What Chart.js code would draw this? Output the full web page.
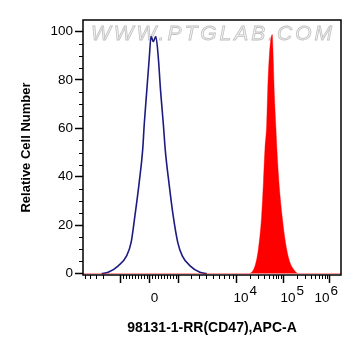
<!DOCTYPE html>
<html>
<head>
<meta charset="utf-8">
<script src="https://cdn.jsdelivr.net/npm/chart.js@4.4.0/dist/chart.umd.min.js"></script>
<style>
  html, body { margin: 0; padding: 0; background: #fff; }
  canvas { display: block; }
</style>
</head>
<body>
<canvas id="myChart" width="361" height="356"></canvas>
<script>
const ctx = document.getElementById('myChart');

// x is in display channels (0-1024) of the biexponential APC-A axis
const controlX = [74, 100, 140, 173, 191, 206, 223, 237, 243, 253, 263, 270, 279, 289, 299, 308, 319, 327, 341, 358, 376, 394, 425, 464, 491];
const controlY = [0, 0.5, 3.2, 7.3, 12.9, 23.8, 37.6, 51.3, 61.6, 75.4, 89.1, 98, 95.9, 98, 89.1, 75.4, 61.6, 50.5, 37.6, 23.8, 12.9, 7.3, 3.2, 0.5, 0];

const stainedX = [0, 656, 683, 696, 709, 716, 722, 729, 733, 739, 751, 755, 759, 765, 772, 779, 790, 805, 820, 838, 855, 1024];
const stainedY = [0, 0, 3.2, 10.1, 23.8, 37.6, 51.3, 61.6, 75.4, 89.1, 98.8, 89.1, 75.4, 61.6, 47, 36, 24, 12, 5, 1.5, 0, 0];

const xMajorTicks = [146.9, 263.9, 381, 607.3, 793.8, 976.4];
const xMajorLabels = ['', '0', '', '10', '10', '10'];
const xLabelExponents = ['', '', '', '4', '5', '6'];
const xMinorTicks = [8, 27.8, 51.6, 79.4,
  158.6, 170.3, 182.0, 193.7, 205.4, 217.1, 228.8, 240.5, 252.2,
  275.6, 287.3, 299.0, 310.7, 322.4, 334.1, 345.8, 357.5, 369.2,
  428.6, 460.4, 488.2, 516, 539.8, 559.6, 579.5, 595.4,
  663.4, 696.3, 719.6, 737.7, 752.4, 764.9, 775.7, 785.2,
  848.8, 880.9, 903.7, 921.4, 935.9, 948.1, 958.7, 968];

const yMajorTicks = [0, 20, 40, 60, 80, 100];
const yMinorTicks = [5, 10, 15, 25, 30, 35, 45, 50, 55, 65, 70, 75, 85, 90, 95];

const FONT = '"Liberation Sans", Arial, sans-serif';
const TICK_FONT = '13.5px ' + FONT;

const toPoints = (xs, ys) => xs.map((x, i) => ({x: x, y: ys[i]}));

const extras = {
    id: 'extras',
    beforeDatasetsDraw(chart) {
        const {ctx, chartArea: a} = chart;
        ctx.save();
        ctx.font = 'italic 21px ' + FONT;
        ctx.letterSpacing = '3px';
        ctx.textAlign = 'center';
        ctx.textBaseline = 'middle';
        ctx.fillStyle = '#f3f3f3';
        ctx.strokeStyle = '#c2c2c2';
        ctx.lineWidth = 0.8;
        const cx = (a.left + a.right) / 2 + 1;
        ctx.fillText('WWW.PTGLAB.COM', cx, a.top + 14);
        ctx.strokeText('WWW.PTGLAB.COM', cx, a.top + 14);
        ctx.restore();
    },
    afterDraw(chart) {
        const {ctx, chartArea: a, scales} = chart;
        ctx.save();
        ctx.strokeStyle = '#000';
        ctx.lineWidth = 1.5;
        ctx.strokeRect(a.left, a.top, a.right - a.left, a.bottom - a.top);
        ctx.lineWidth = 1;
        ctx.beginPath();
        xMinorTicks.forEach(v => {
            const px = Math.round(scales.x.getPixelForValue(v)) + 0.5;
            ctx.moveTo(px, a.bottom);
            ctx.lineTo(px, a.bottom + 4);
        });
        yMinorTicks.forEach(v => {
            const py = Math.round(scales.y.getPixelForValue(v)) + 0.5;
            ctx.moveTo(a.left - 4, py);
            ctx.lineTo(a.left, py);
        });
        ctx.stroke();

        // x labels: base + raised exponent, kept inside the plot's right edge
        ctx.font = TICK_FONT;
        ctx.fillStyle = '#000';
        ctx.textBaseline = 'alphabetic';
        ctx.textAlign = 'left';
        xMajorTicks.forEach((v, i) => {
            const base = xMajorLabels[i];
            if (!base) return;
            const exp = xLabelExponents[i];
            const wb = ctx.measureText(base).width;
            const we = exp ? ctx.measureText(exp).width + 1 : 0;
            let left = scales.x.getPixelForValue(v) + 5 - wb / 2;
            if (left + wb + we > a.right - 3) left = a.right - 3 - wb - we;
            ctx.fillText(base, left, a.bottom + 27);
            if (exp) ctx.fillText(exp, left + wb + 1, a.bottom + 20);
        });
        ctx.restore();
    }
};

new Chart(ctx, {
    type: 'line',
    data: {
        datasets: [{
            data: toPoints(stainedX, stainedY),
            borderColor: 'rgba(255, 0, 0, 0.4)',
            backgroundColor: 'rgb(255, 0, 0)',
            borderWidth: 1,
            fill: 'origin',
            pointRadius: 0,
            cubicInterpolationMode: 'monotone'
        }, {
            data: toPoints(controlX, controlY),
            borderColor: 'rgb(28, 28, 128)',
            borderWidth: 1.6,
            fill: false,
            pointRadius: 0,
            cubicInterpolationMode: 'monotone'
        }]
    },
    options: {
        responsive: false,
        animation: false,
        layout: {padding: {top: 20, right: 20, left: 0, bottom: 0}},
        plugins: {legend: {display: false}, tooltip: {enabled: false}},
        scales: {
            x: {
                type: 'linear',
                min: 0,
                max: 1024,
                afterFit: s => { s.height = 81; },
                afterBuildTicks: s => { s.ticks = xMajorTicks.map(v => ({value: v})); },
                border: {display: false},
                grid: {drawOnChartArea: false, drawTicks: true, tickLength: 8, tickColor: '#000', tickWidth: 1.5},
                ticks: {
                    autoSkip: false,
                    maxRotation: 0,
                    display: false
                },
                title: {
                    display: true,
                    text: '98131-1-RR(CD47),APC-A',
                    color: '#000',
                    font: {family: FONT, size: 14, weight: 'bold'},
                    padding: {top: 0, bottom: 19}
                }
            },
            y: {
                min: -0.6,
                max: 104.8,
                afterFit: s => { s.width = 83; },
                afterBuildTicks: s => { s.ticks = yMajorTicks.map(v => ({value: v})); },
                border: {display: false},
                grid: {drawOnChartArea: false, drawTicks: true, tickLength: 8, tickColor: '#000', tickWidth: 1.5},
                ticks: {
                    padding: 2,
                    color: '#000',
                    font: {family: FONT, size: 13.5}
                },
                title: {
                    display: true,
                    text: 'Relative Cell Number',
                    color: '#000',
                    font: {family: FONT, size: 13, weight: 'bold'},
                    padding: {top: 19, bottom: 0}
                }
            }
        }
    },
    plugins: [extras]
});
</script>
</body>
</html>
